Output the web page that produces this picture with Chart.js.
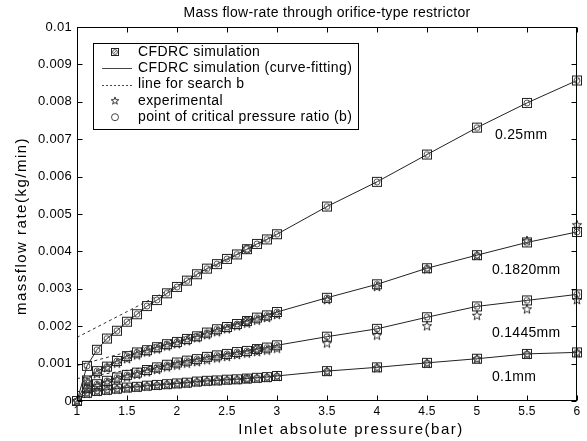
<!DOCTYPE html>
<html>
<head>
<meta charset="utf-8">
<title>Mass flow-rate through orifice-type restrictor</title>
<script src="https://cdn.jsdelivr.net/npm/chart.js@4.4.1/dist/chart.umd.min.js"></script>
<style>
  html, body { margin: 0; padding: 0; background: #fff; }
  #wrap { width: 587px; height: 441px; }
</style>
</head>
<body>
<div id="wrap"><canvas id="chart" width="587" height="441"></canvas></div>
<script>
// inlet absolute pressure (bar)
const pressure = [1, 1.1, 1.2, 1.3, 1.4, 1.5, 1.6, 1.7, 1.8, 1.9, 2, 2.1, 2.2, 2.3, 2.4, 2.5, 2.6, 2.7, 2.8, 2.9, 3, 3.5, 4, 4.5, 5, 5.5, 6];

// CFDRC simulation, mass flow rate (kg/min)
const sim025 = [0, 0.00094, 0.00137, 0.00167, 0.00188, 0.00212, 0.00232, 0.00254, 0.0027, 0.00288, 0.00305, 0.00322, 0.00339, 0.00354, 0.00366, 0.0038, 0.00392, 0.00406, 0.0042, 0.00432, 0.00446, 0.0052, 0.00586, 0.00659, 0.00731, 0.00797, 0.00857];
const sim182 = [0, 0.00055, 0.0008, 0.00092, 0.00107, 0.0012, 0.0013, 0.00136, 0.00144, 0.00152, 0.00158, 0.00166, 0.00173, 0.00183, 0.00192, 0.00198, 0.00206, 0.00214, 0.00223, 0.00229, 0.00238, 0.00276, 0.00312, 0.00355, 0.0039, 0.00424, 0.00452];
const sim1445 = [0, 0.00036, 0.00045, 0.00054, 0.00063, 0.0007, 0.00076, 0.00083, 0.0009, 0.00097, 0.00103, 0.00108, 0.00112, 0.00118, 0.00122, 0.00126, 0.00131, 0.00134, 0.00139, 0.00143, 0.00149, 0.00172, 0.00193, 0.00224, 0.00253, 0.00269, 0.00285];
const sim100 = [0, 0.00022, 0.00027, 0.0003, 0.00033, 0.00036, 0.00038, 0.00041, 0.00043, 0.00045, 0.00047, 0.00049, 0.00052, 0.00054, 0.00055, 0.00057, 0.00058, 0.0006, 0.00062, 0.00064, 0.00067, 0.0008, 0.0009, 0.00102, 0.00113, 0.00126, 0.0013];

// experimental (no measurements for 0.25mm)
const exp182 = [0, 0.0005, 0.00072, 0.00088, 0.001, 0.00112, 0.00122, 0.0013, 0.00138, 0.00146, 0.00152, 0.0016, 0.00168, 0.00176, 0.00184, 0.00192, 0.002, 0.00207, 0.00215, 0.00222, 0.0023, 0.0027, 0.00305, 0.00352, 0.00388, 0.00428, 0.0047];
const exp1445 = [0, 0.0003, 0.0004, 0.00048, 0.00056, 0.00063, 0.0007, 0.00077, 0.00083, 0.0009, 0.00095, 0.001, 0.00104, 0.00109, 0.00114, 0.00118, 0.00123, 0.00127, 0.00131, 0.00135, 0.0014, 0.00154, 0.00175, 0.002, 0.00228, 0.00245, 0.0027];
const exp100 = [0, 0.0002, 0.00025, 0.00028, 0.00031, 0.00034, 0.00036, 0.00039, 0.00041, 0.00043, 0.00045, 0.00047, 0.0005, 0.00052, 0.00053, 0.00055, 0.00056, 0.00058, 0.0006, 0.00062, 0.00065, 0.00078, 0.00088, 0.001, 0.00112, 0.00124, 0.00128];

// dashed "line for search b"
const searchP = [1, 3];
const search025 = [0.0017, 0.00446];
const search182 = [0.00095, 0.00238];
const search1445 = [0.0006, 0.00149];
const search100 = [0.00025, 0.00067];

// point of critical pressure ratio (b)
const criticalP = [2.7, 2.7, 2.8, 2.7];
const criticalFlow = [0.00406, 0.00214, 0.00139, 0.0006];

const curveNames = ['0.25mm', '0.1820mm', '0.1445mm', '0.1mm'];
const legendLabels = ['CFDRC simulation', 'CFDRC simulation (curve-fitting)', 'line for search b', 'experimental', 'point of critical pressure ratio (b)'];

const FONT = '"Liberation Sans", Arial, sans-serif';

function simMarker(size) {
  const c = document.createElement('canvas');
  c.width = size + 2; c.height = size + 2;
  const g = c.getContext('2d');
  const m = (size + 2) / 2;
  g.lineWidth = 1;
  g.strokeStyle = '#222';
  g.strokeRect(1.5, 1.5, size - 1, size - 1);
  g.strokeStyle = '#555';
  g.beginPath();
  g.arc(m, m, size * 0.3, 0, Math.PI * 2);
  g.stroke();
  g.strokeStyle = '#777';
  g.beginPath();
  g.moveTo(m - size * 0.22, m + size * 0.22);
  g.lineTo(m + size * 0.22, m - size * 0.22);
  g.stroke();
  return c;
}

function starMarker(size) {
  const c = document.createElement('canvas');
  c.width = size + 2; c.height = size + 2;
  const g = c.getContext('2d');
  const m = (size + 2) / 2, ro = size / 2, ri = size * 0.2;
  g.strokeStyle = '#333';
  g.lineWidth = 1;
  g.beginPath();
  for (let i = 0; i < 10; i++) {
    const r = i % 2 ? ri : ro;
    const a = -Math.PI / 2 + i * Math.PI / 5;
    const px = m + r * Math.cos(a), py = m + r * Math.sin(a);
    i ? g.lineTo(px, py) : g.moveTo(px, py);
  }
  g.closePath();
  g.stroke();
  return c;
}

const simIcon = simMarker(10);
const starIcon = starMarker(10);

const toPoints = (xs, ys) => xs.map((x, i) => ({ x: x, y: ys[i] }));

const simSets = [sim025, sim182, sim1445, sim100];
const expSets = [null, exp182, exp1445, exp100];
const searchSets = [search025, search182, search1445, search100];

const datasets = [];
simSets.forEach((ys, k) => {
  datasets.push({
    label: 'CFDRC simulation ' + curveNames[k],
    data: toPoints(pressure, ys),
    showLine: true,
    borderColor: '#222',
    borderWidth: 1,
    pointStyle: simIcon,
    pointRadius: 5,
    clip: false
  });
  if (expSets[k]) {
    datasets.push({
      label: 'experimental ' + curveNames[k],
      data: toPoints(pressure, expSets[k]),
      showLine: false,
      pointStyle: starIcon,
      pointRadius: 5,
      clip: false
    });
  }
  datasets.push({
    label: 'line for search b ' + curveNames[k],
    data: toPoints(searchP, searchSets[k]),
    showLine: true,
    borderColor: '#333',
    borderWidth: 1,
    borderDash: [3, 3],
    pointRadius: 0
  });
});
datasets.push({
  label: 'point of critical pressure ratio (b)',
  data: toPoints(criticalP, criticalFlow),
  showLine: false,
  pointStyle: 'circle',
  pointRadius: 4,
  borderColor: '#333',
  borderWidth: 1,
  backgroundColor: 'rgba(0,0,0,0)'
});

// slightly loose text like the original bitmap
const spacing = {
  id: 'spacing',
  beforeDraw(chart) { chart.ctx.letterSpacing = '0.3px'; }
};

// axes box with inward ticks on all four sides
const frame = {
  id: 'frame',
  afterDatasetsDraw(chart) {
    const { ctx, chartArea: a, scales: { x, y } } = chart;
    const L = Math.round(a.left) + 0.5, R = Math.round(a.right) - 0.5;
    const T = Math.round(a.top) + 0.5, B = Math.round(a.bottom) - 0.5;
    ctx.save();
    ctx.strokeStyle = '#000';
    ctx.lineWidth = 1;
    ctx.strokeRect(L, T, R - L, B - T);
    ctx.beginPath();
    x.ticks.forEach(t => {
      const px = Math.round(x.getPixelForValue(t.value)) + 0.5;
      ctx.moveTo(px, B); ctx.lineTo(px, B - 5);
      ctx.moveTo(px, T); ctx.lineTo(px, T + 5);
    });
    y.ticks.forEach(t => {
      const py = Math.round(y.getPixelForValue(t.value)) + 0.5;
      ctx.moveTo(L, py); ctx.lineTo(L + 5, py);
      ctx.moveTo(R, py); ctx.lineTo(R - 5, py);
    });
    ctx.stroke();
    ctx.restore();
  }
};

// curve names and axis titles
const labels = {
  id: 'labels',
  afterDatasetsDraw(chart) {
    const { ctx, scales: { x, y } } = chart;
    const pos = [[5.18, 0.00712], [5.15, 0.0035], [5.15, 0.00181], [5.15, 0.00064]];
    ctx.save();
    ctx.fillStyle = '#000';
    ctx.font = '14px ' + FONT;
    ctx.textBaseline = 'middle';
    ctx.textAlign = 'left';
    curveNames.forEach((name, k) => {
      ctx.fillText(name, x.getPixelForValue(pos[k][0]), y.getPixelForValue(pos[k][1]));
    });
    ctx.letterSpacing = '1.5px';
    ctx.font = '15px ' + FONT;
    ctx.textAlign = 'center';
    ctx.fillText('Inlet absolute pressure(bar)', 351, 430);
    ctx.translate(22, 226);
    ctx.rotate(-Math.PI / 2);
    ctx.fillText('massflow rate(kg/min)', 0, 0);
    ctx.restore();
  }
};

const boxLegend = {
  id: 'boxLegend',
  afterDraw(chart) {
    const ctx = chart.ctx;
    const left = 93.5, top = 43.5, w = 265, h = 86;
    const rows = [52, 68.3, 84.6, 100.9, 117.2];
    const symX = 115, textX = 138;
    ctx.save();
    ctx.fillStyle = '#fff';
    ctx.fillRect(left, top, w, h);
    ctx.strokeStyle = '#000';
    ctx.lineWidth = 1;
    ctx.strokeRect(left, top, w, h);
    ctx.drawImage(simMarker(8), symX - 5, rows[0] - 5);
    ctx.strokeStyle = '#444';
    ctx.beginPath();
    ctx.moveTo(102, Math.round(rows[1]) + 0.5); ctx.lineTo(132, Math.round(rows[1]) + 0.5);
    ctx.stroke();
    ctx.setLineDash([2, 2]);
    ctx.beginPath();
    ctx.moveTo(102, Math.round(rows[2]) + 0.5); ctx.lineTo(132, Math.round(rows[2]) + 0.5);
    ctx.stroke();
    ctx.setLineDash([]);
    ctx.drawImage(starMarker(8), symX - 5, rows[3] - 5);
    ctx.beginPath();
    ctx.arc(symX, rows[4], 3.5, 0, Math.PI * 2);
    ctx.stroke();
    ctx.fillStyle = '#000';
    ctx.font = '14px ' + FONT;
    ctx.textBaseline = 'middle';
    ctx.letterSpacing = '0.4px';
    legendLabels.forEach((t, i) => ctx.fillText(t, textX, rows[i]));
    ctx.restore();
  }
};

new Chart(document.getElementById('chart'), {
  type: 'scatter',
  data: { datasets: datasets },
  plugins: [spacing, frame, labels, boxLegend],
  options: {
    responsive: false,
    animation: false,
    devicePixelRatio: 1,
    layout: { padding: { left: 0, right: 10, top: 0, bottom: 0 } },
    plugins: {
      legend: { display: false },
      tooltip: { enabled: false },
      title: {
        display: true,
        fullSize: false,
        text: 'Mass flow-rate through orifice-type restrictor',
        color: '#000',
        font: { family: FONT, size: 14, weight: 'normal' },
        padding: { top: 5, bottom: 5.2 }
      }
    },
    scales: {
      x: {
        type: 'linear',
        min: 1,
        max: 6,
        afterFit(s) { s.height = 40; },
        grid: { display: false, drawTicks: false },
        border: { display: false },
        ticks: {
          stepSize: 0.5,
          padding: 3,
          color: '#000',
          font: { family: FONT, size: 12 },
          callback: v => String(Number(v.toFixed(1)))
        }
      },
      y: {
        type: 'linear',
        min: 0,
        max: 0.01,
        afterFit(s) { s.width = 77; },
        grid: { display: false, drawTicks: false },
        border: { display: false },
        ticks: {
          stepSize: 0.001,
          padding: 5,
          color: '#000',
          font: { family: FONT, size: 13 },
          callback: v => String(Number(v.toFixed(3)))
        }
      }
    }
  }
});
</script>
</body>
</html>
